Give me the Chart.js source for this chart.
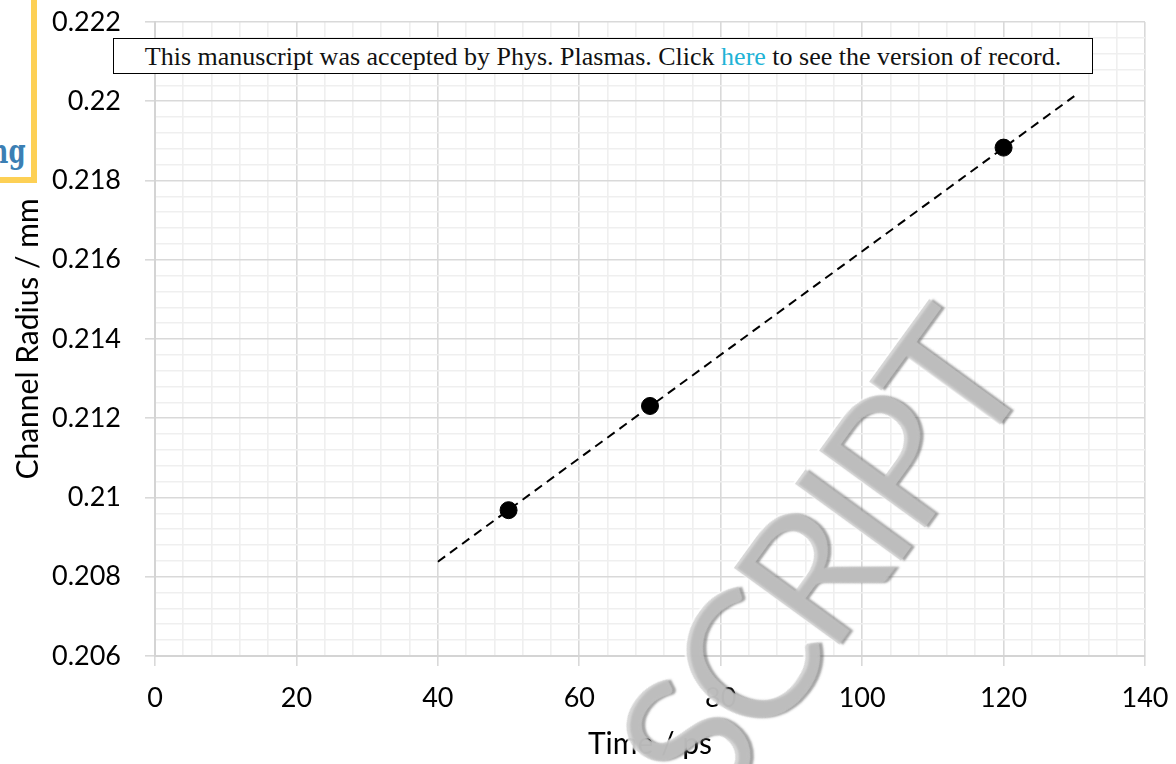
<!DOCTYPE html>
<html>
<head>
<meta charset="utf-8">
<script src="https://cdn.jsdelivr.net/npm/chart.js@4"></script>
<style>
  body { margin: 0; background: #fff; }
  #wrap { position: relative; width: 1176px; height: 764px; overflow: hidden; }
  #banner {
    position: absolute; left: 113px; top: 38px; width: 978px; height: 34px;
    border: 1.5px solid #000; background: #fff;
    font-family: "Liberation Serif", serif; font-size: 26px; line-height: 35px;
    text-align: center; color: #111; white-space: nowrap;
  }
  #banner span { color: #1fb3d6; }
  #sidebox {
    position: absolute; left: 0; top: 0; width: 31px; height: 177px;
    border-right: 6px solid #fdd055; border-bottom: 6px solid #fdd055; background: #fff;
    overflow: hidden;
  }
  #sidebox div {
    position: absolute; right: 6px; top: 131px; color: #3b7fb4;
    font: bold 34px "DejaVu Serif", serif; transform: scaleX(0.72); transform-origin: right;
  }
  #mark {
    position: absolute; left: 815px; top: 560px;
    font-family: Lato, "Open Sans", sans-serif; font-weight: 400; font-size: 182px; line-height: 1;
    letter-spacing: -10px;
    color: rgba(200,200,200,0.72); white-space: nowrap;
    transform: translate(-50%, -50%) rotate(-54deg);
    text-shadow: 2px 3px 2px rgba(90,90,90,0.55), -1px -2px 1px rgba(255,255,255,0.8);
    pointer-events: none;
  }
</style>
</head>
<body>
<div id="wrap">
  <canvas id="chart" width="1176" height="764"></canvas>
  <div id="sidebox"><div>ng</div></div>
  <div id="banner">This manuscript was accepted by Phys. Plasmas. Click <span>here</span> to see the version of record.</div>
  <div id="mark">SCRIPT</div>
</div>
<script>
// measured points
const timePs = [50, 70, 120];
const radiusMm = [0.20968, 0.21231, 0.21883];

// dashed linear trend, end points
const trendTime = [40, 130];
const trendRadius = [0.20838, 0.22013];

// axes
const xMin = 0, xMax = 140, xMajor = 20, xMinor = 4;
const yMin = 0.206, yMax = 0.222, yMajor = 0.002, yMinor = 0.0004;

const isMajor = (v, step) => Math.abs(Math.round(v / step) * step - v) < step * 1e-6;
const font = { family: 'Lato, "Open Sans", sans-serif', size: 27 };
const titleFont = { family: 'Lato, "Open Sans", sans-serif', size: 30 };

new Chart(document.getElementById('chart'), {
  type: 'scatter',
  data: {
    datasets: [{
      label: 'Trend',
      data: trendTime.map((t, i) => ({ x: t, y: trendRadius[i] })),
      showLine: true,
      borderColor: '#000',
      borderWidth: 2,
      borderDash: [9, 6],
      pointRadius: 0,
      fill: false
    }, {
      label: 'Channel radius',
      data: timePs.map((t, i) => ({ x: t, y: radiusMm[i] })),
      backgroundColor: '#000',
      borderColor: '#000',
      pointRadius: 8.5,
      pointHoverRadius: 8.5
    }]
  },
  options: {
    responsive: false,
    animation: false,
    layout: { padding: { top: 22, right: 31, left: 0, bottom: 0 } },
    plugins: { legend: { display: false }, tooltip: { enabled: false } },
    scales: {
      x: {
        type: 'linear', min: xMin, max: xMax,
        afterFit: s => { s.height = 108; s.paddingLeft = 0; s.paddingRight = 0; },
        ticks: {
          stepSize: xMinor, autoSkip: false, maxRotation: 0, color: '#000', font, padding: 16,
          callback: v => isMajor(v, xMajor) ? String(v) : ''
        },
        grid: {
          color: c => isMajor(c.tick.value, xMajor) ? '#d9d9d9' : '#efefef',
          tickColor: c => isMajor(c.tick.value, xMajor) ? '#d9d9d9' : 'rgba(0,0,0,0)',
          lineWidth: 1.6, tickLength: 10
        },
        border: { color: '#d4d4d4', width: 2 },
        title: { display: true, text: 'Time / ps', color: '#000', font: titleFont, padding: { top: 0, bottom: 2 } }
      },
      y: {
        type: 'linear', min: yMin, max: yMax,
        afterFit: s => { s.width = 155; s.paddingTop = 0; s.paddingBottom = 0; },
        ticks: {
          stepSize: yMinor, autoSkip: false, color: '#000', font, padding: 24,
          callback: v => isMajor(v, yMajor) ? String(parseFloat(v.toFixed(3))) : ''
        },
        grid: {
          color: c => isMajor(c.tick.value, yMajor) ? '#d9d9d9' : '#efefef',
          tickColor: c => isMajor(c.tick.value, yMajor) ? '#d9d9d9' : 'rgba(0,0,0,0)',
          lineWidth: 1.6, tickLength: 10
        },
        border: { color: '#d4d4d4', width: 2 },
        title: { display: true, text: 'Channel Radius / mm', color: '#000', font: titleFont, padding: { top: 10, bottom: 0 } }
      }
    }
  }
});
</script>
</body>
</html>
